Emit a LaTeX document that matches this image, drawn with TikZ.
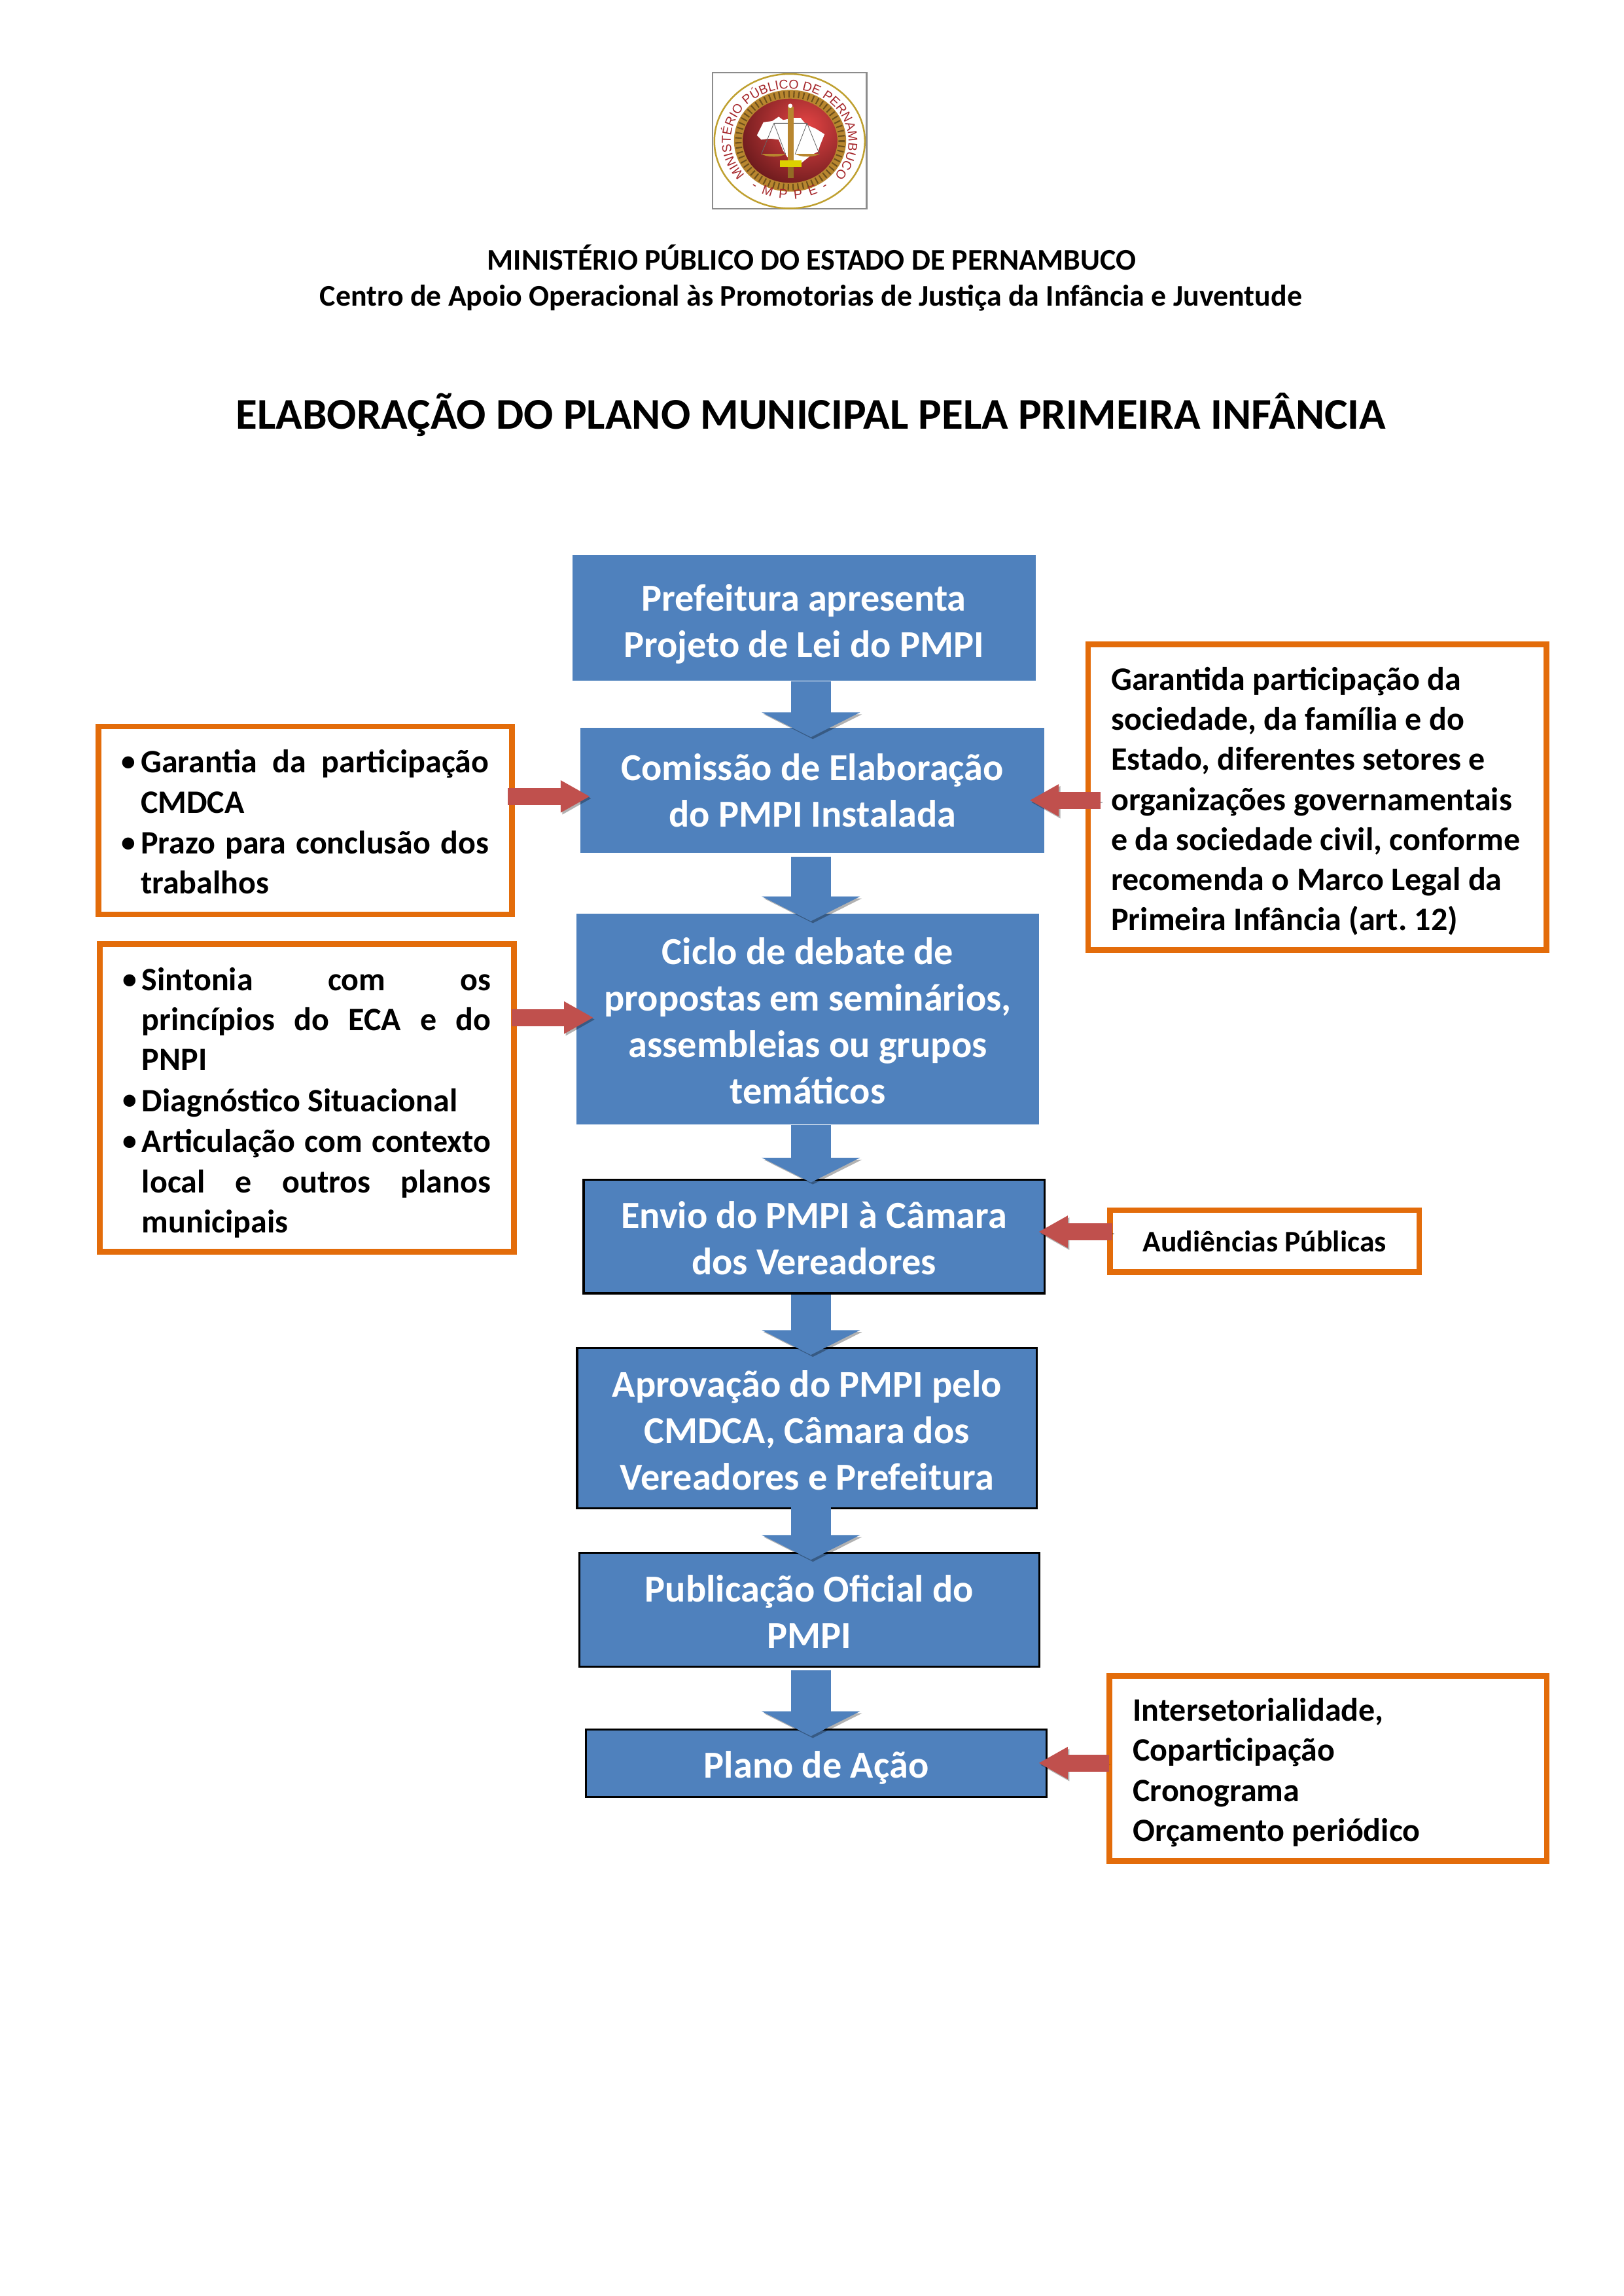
\documentclass[tikz,border=0pt]{standalone}
\usepackage{fontspec}
\setmainfont{Carlito}
\newfontfamily\logofont{Liberation Sans}
\usetikzlibrary{arrows.meta,calc,decorations.text}

\definecolor{stepblue}{HTML}{4F81BD}
\definecolor{notered}{HTML}{C0504D}
\definecolor{noteorange}{HTML}{E36C0A}
\definecolor{logored}{HTML}{A5272B}
\definecolor{logorope}{HTML}{B8862F}
\definecolor{logogold}{HTML}{BFA030}

\newcommand{\bulletline}{\par\noindent\hangindent=7pt\hangafter=0\llap{\raisebox{.8pt}{\fontsize{10.5}{10}\selectfont•}\hskip1.8pt}}
\newcommand{\dropline}[1]{\rule{0pt}{#1}}
\newcommand{\liftblock}[1]{\par\nointerlineskip\vbox to #1{}}

\begin{document}
\begin{tikzpicture}[
    stepbox/.style={fill=stepblue,text=white,align=center,inner sep=2pt,font=\fontsize{14.05}{17.1}\selectfont\bfseries},
    stepline/.style={stepbox,draw=black,line width=.75pt},
    notebox/.style={draw=noteorange,line width=2.1pt,fill=white,inner xsep=.3cm,inner ysep=2pt,font=\fontsize{12.05}{14.75}\selectfont\bfseries,
      execute at begin node={\hyphenpenalty=10000\frenchspacing\parskip=.3pt}},
    flow/.style={line width=.52cm,draw=stepblue,shorten >=-.1cm,-{Triangle[length=.32cm,width=1.26cm]},
      preaction={draw=black,opacity=.3,transform canvas={shift={(.025,-.025)}}}},
    pointer/.style={line width=.22cm,draw=notered,-{Triangle[length=.38cm,width=.39cm]},
      preaction={draw=black,opacity=.3,transform canvas={shift={(.02,-.025)}}}},
    heading/.style={inner sep=0pt,font=\bfseries}
  ]
    \useasboundingbox (0,0) rectangle (21,-29.693);

    % logo
    \begin{scope}[shift={(8.888,-.762)},x=.002822cm,y=-.002822cm]
      \draw[draw=black!45,line width=.5pt] (118,62) rectangle (823,688);
      \draw[draw=logogold,line width=.6pt] (470,377) ellipse (345 and 308);
      \begin{scope}
        \clip (472,375) ellipse (230 and 205);
        \shade[inner color=red!70!white!90!black,outer color=logored!60!black] (540,310) ellipse (340 and 310);
      \end{scope}
      \fill[white] (320,350) -- (350,290) -- (390,285) -- (420,265) -- (440,280) -- (490,270) -- (520,270) -- (545,300) -- (590,320) -- (630,345) -- (610,395) -- (600,425) -- (570,440) -- (545,460) -- (520,480) -- (490,470) -- (460,450) -- (440,420) -- (420,370) -- (380,365) -- (340,370) -- cycle;
      \draw[draw=logorope,line width=3.2pt] (472,375) ellipse (237 and 213);
      \draw[draw=logorope!60!black,line width=2.4pt,dash pattern=on .5pt off 1.3pt] (472,375) ellipse (237 and 213);
      \draw[draw=black!60,line width=.2pt] (398,295) -- (550,295) (398,295) -- (340,437) (398,295) -- (452,437) (550,295) -- (495,437) (550,295) -- (607,437);
      \fill[logorope] (340,435) -- (452,435) .. controls (430,452) and (365,452) .. (340,435);
      \fill[logorope] (495,435) -- (607,435) .. controls (585,452) and (520,452) .. (495,435);
      \fill[logorope] (462,220) rectangle (488,470);
      \fill[yellow!70!olive] (425,465) rectangle (525,495);
      \fill[logorope!80!black] (462,495) rectangle (490,545);
      \fill[white] (473,215) circle (10);
      \path[decorate,decoration={text along path,text align=center,
        text={|\logofont\fontsize{4.7}{5}\selectfont\color{logored}|MINISTÉRIO PÚBLICO DE PERNAMBUCO}}]
        (470,377) ++(142:270 and 240) arc[start angle=142,end angle=398,x radius=270,y radius=240];
      \path[decorate,decoration={text along path,text align=center,
        text={|\logofont\fontsize{4.8}{5}\selectfont\color{logored}|- {\ }M {\ }P {\ }P {\ }E {\ }-}}]
        (470,377) ++(130:300 and 265) arc[start angle=130,end angle=50,x radius=300,y radius=265];
    \end{scope}

    % headings
    \node (orgname) at (10.5,-3.33) [heading,font=\fontsize{11.05}{13}\selectfont\bfseries] {MINISTÉRIO PÚBLICO DO ESTADO DE PERNAMBUCO};
    \node (orgunit) at (10.49,-3.85) [heading,font=\fontsize{11.05}{13}\selectfont\bfseries] {Centro de Apoio Operacional às Promotorias de Justiça da Infância e Juventude};
    \node (doctitle) at (10.49,-5.36) [heading,font=\fontsize{16.15}{19}\selectfont\bfseries] {ELABORAÇÃO DO PLANO MUNICIPAL PELA PRIMEIRA INFÂNCIA};

    % main column
    \node (prefeitura) at (10.40,-7.99) [stepbox,minimum width=5.99cm,minimum height=1.63cm] {\dropline{14.4pt}Prefeitura apresenta\\Projeto de Lei do PMPI};
    \node (comissao) at (10.51,-10.22) [stepbox,minimum width=6cm,minimum height=1.62cm] {Comissão de Elaboração\\do PMPI Instalada};
    \node (ciclo) at (10.45,-13.18) [stepbox,minimum width=5.99cm,minimum height=2.72cm] {\dropline{11.2pt}Ciclo de debate de\\propostas em seminários,\\assembleias ou grupos\\temáticos};
    \node (envio) at (10.53,-15.99) [stepline,minimum width=5.96cm,minimum height=1.47cm] {\dropline{11.2pt}Envio do PMPI à Câmara\\dos Vereadores};
    \node (aprovacao) at (10.44,-18.47) [stepline,minimum width=5.95cm,minimum height=2.07cm] {\dropline{11.2pt}Aprovação do PMPI pelo\\CMDCA, Câmara dos\\Vereadores e Prefeitura};
    \node (publicacao) at (10.47,-20.82) [stepline,minimum width=5.95cm,minimum height=1.47cm] {\dropline{11.2pt}Publicação Oficial do\\PMPI};
    \node (plano) at (10.56,-22.80) [stepline,minimum width=5.96cm,minimum height=.87cm] {\dropline{13.4pt}Plano de Ação};

    % notes on the left
    \node (garantia) at (3.95,-10.61) [notebox,minimum width=5.35cm,minimum height=2.41cm,text width=4.75cm,align=justify]
      {\bulletline Garantia da participação\linebreak CMDCA\bulletline Prazo para conclusão dos\linebreak trabalhos\liftblock{5.4pt}};
    \node (sintonia) at (3.97,-14.20) [notebox,minimum width=5.36cm,minimum height=3.98cm,text width=4.76cm,align=justify]
      {\bulletline Sintonia com os\linebreak princípios do ECA e do\linebreak PNPI\bulletline Diagnóstico Situacional\bulletline Articulação com contexto\linebreak local e outros planos\linebreak municipais\liftblock{3.2pt}};

    % notes on the right
    \node (sociedade) at (17.04,-10.31) [notebox,minimum width=5.93cm,minimum height=3.95cm,text width=5.33cm,align=flush left]
      {\dropline{11.5pt}Garantida participação da\\sociedade, da família e do\\Estado, diferentes setores e\\organizações governamentais\\e da sociedade civil, conforme\\recomenda o Marco Legal da\\Primeira Infância (art. 12)};
    \node (audiencias) at (16.36,-16.05) [notebox,minimum width=4cm,minimum height=.8cm,align=center,font=\fontsize{11}{13}\selectfont\bfseries] {Audiências Públicas};
    \node (recursos) at (17.18,-22.87) [notebox,minimum width=5.66cm,minimum height=2.4cm,text width=5.05cm,align=flush left]
      {\dropline{11.5pt}Intersetorialidade,\\Coparticipação\\Cronograma\\Orçamento periódico};

    \coordinate (axis) at (10.49,0);
    \coordinate (row1) at (0,-10.30);
    \coordinate (row2) at (0,-13.16);
    \coordinate (row3) at (0,-10.35);
    \coordinate (row4) at (0,-15.93);
    \coordinate (row5) at (0,-22.80);

    \draw[flow,shorten >=-.13cm] (prefeitura.south -| axis) -- (comissao.north -| axis);
    \draw[flow,shorten <=.04cm] (comissao.south -| axis) -- (ciclo.north -| axis);
    \draw[flow,shorten >=-.05cm] (ciclo.south -| axis) -- (envio.north -| axis);
    \draw[flow] (envio.south -| axis) -- (aprovacao.north -| axis);
    \draw[flow,shorten <=-.14cm] (aprovacao.south -| axis) -- (publicacao.north -| axis);
    \draw[flow,shorten <=.03cm] (publicacao.south -| axis) -- (plano.north -| axis);

    \draw[pointer,shorten <=-.09cm,shorten >=-.13cm] (row1 -| garantia.east) -- (row1 -| comissao.west);
    \draw[pointer,shorten <=-.07cm,shorten >=-.23cm] (row2 -| sintonia.east) -- (row2 -| ciclo.west);
    \draw[pointer,shorten <=-.2cm,shorten >=-.2cm] (row3 -| sociedade.west) -- (row3 -| comissao.east);
    \draw[pointer,shorten <=-.07cm,shorten >=-.09cm] (row4 -| audiencias.west) -- (row4 -| envio.east);
    \draw[pointer,shorten <=-.03cm,shorten >=-.12cm] (row5 -| recursos.west) -- (row5 -| plano.east);
\end{tikzpicture}
\end{document}
